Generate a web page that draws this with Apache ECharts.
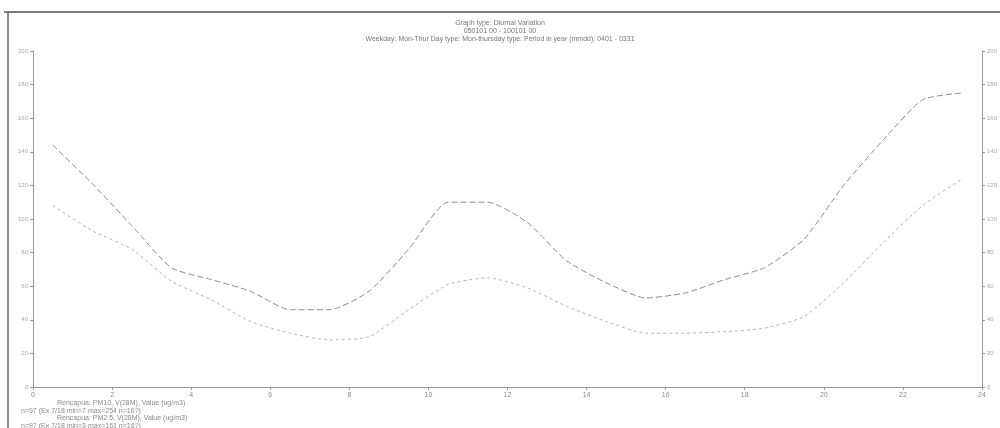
<!DOCTYPE html>
<html>
<head>
<meta charset="utf-8">
<script src="https://cdn.jsdelivr.net/npm/echarts@6/dist/echarts.min.js"></script>
<style>
html, body { margin: 0; padding: 0; background: #fff; }
#chart { width: 1000px; height: 428px; }
</style>
</head>
<body>
<div id="chart"></div>
<script>
// hours (half past each hour)
var hours = [0.5, 1.5, 2.5, 3.5, 4.5, 5.5, 6.5, 7.5, 8.5, 9.5, 10.5, 11.5,
    12.5, 13.5, 14.5, 15.5, 16.5, 17.5, 18.5, 19.5, 20.5, 21.5, 22.5, 23.5];
// PM10 diurnal mean
var pm10 = [144, 121, 96, 71, 64, 57, 46, 46, 57, 82, 110, 110,
    98, 75, 62, 53, 56, 64, 71, 88, 120, 147, 171, 175];
// PM2.5 diurnal mean
var pm25 = [108, 93, 82, 63, 52, 39, 32, 28, 30, 46, 61, 65,
    59, 48, 39, 32, 32, 33, 35, 42, 62, 86, 108, 124];

var names = ['Rencapua: PM10, V(28M), Value (ug/m3)', 'Rencapua: PM2.5, V(28M), Value (ug/m3)'];
var stats = ['n=97 (Ex 7/18 min=7 max=254 n=16?)', 'n=97 (Ex 7/18 min=3 max=161 n=16?)'];

function pairs(vals) {
    return vals.map(function (v, i) { return [hours[i], v]; });
}

var chart = echarts.init(document.getElementById('chart'));
var font = 'Liberation Sans';
var txt = '#8a8a8a';

chart.setOption({
    animation: false,
    backgroundColor: '#fff',
    textStyle: { fontFamily: font },
    title: {
        text: 'Graph type: Diurnal Variation\n050101 00 - 100101 00\nWeekday: Mon-Thur Day type: Mon-thursday type: Period in year (mmdd): 0401 - 0331',
        left: 'center',
        top: 14,
        textStyle: { fontSize: 7, fontWeight: 'normal', color: '#777', lineHeight: 8, fontFamily: font }
    },
    legend: {
        orient: 'vertical',
        left: 4,
        top: 400,
        height: 40,
        padding: 0,
        itemWidth: 44,
        itemHeight: 4,
        itemGap: 0,
        icon: 'line',
        textStyle: {
            color: txt,
            fontSize: 7,
            rich: {
                a: { fontSize: 7, color: txt, lineHeight: 8, padding: [0, 0, 0, 4] },
                b: { fontSize: 7, color: txt, lineHeight: 8, padding: [0, 0, 0, -32] }
            }
        },
        formatter: function (n) {
            var i = names.indexOf(n);
            return '{a|' + n + '}\n{b|' + stats[i] + '}';
        },
        data: names
    },
    graphic: [
        { type: 'line', shape: { x1: 4, y1: 12, x2: 1000, y2: 12 }, style: { stroke: '#555', lineWidth: 1.5 } },
        { type: 'line', shape: { x1: 8, y1: 12, x2: 8, y2: 428 }, style: { stroke: '#666', lineWidth: 1.5 } }
    ],
    grid: { left: 33, right: 13, top: 51, bottom: 41 },
    xAxis: {
        type: 'value',
        min: 0,
        max: 24,
        interval: 2,
        axisLine: { lineStyle: { color: '#999' } },
        axisTick: { length: 3, lineStyle: { color: '#999' } },
        axisLabel: { fontSize: 7, color: txt, margin: 5 },
        splitLine: { show: false }
    },
    yAxis: [{
        type: 'value',
        min: 0,
        max: 200,
        interval: 20,
        axisLine: { show: true, lineStyle: { color: '#999' } },
        axisTick: { show: true, length: 3, lineStyle: { color: '#999' } },
        axisLabel: { fontSize: 6, color: '#aaa', margin: 5 },
        splitLine: { show: false }
    }, {
        type: 'value',
        position: 'right',
        min: 0,
        max: 200,
        interval: 20,
        axisLine: { show: true, lineStyle: { color: '#999' } },
        axisTick: { show: true, length: 3, lineStyle: { color: '#999' } },
        axisLabel: { fontSize: 6, color: '#aaa', margin: 5 },
        splitLine: { show: false }
    }],
    series: [{
        name: names[0],
        type: 'line',
        data: pairs(pm10),
        symbol: 'none',
        smooth: 0.2,
        lineStyle: { color: '#8c8c8c', width: 1, type: [6, 3] },
        itemStyle: { color: '#8c8c8c' }
    }, {
        name: names[1],
        type: 'line',
        data: pairs(pm25),
        symbol: 'none',
        smooth: 0.2,
        lineStyle: { color: '#b4b4b4', width: 1, type: [3, 3] },
        itemStyle: { color: '#b4b4b4' }
    }]
});
</script>
</body>
</html>
